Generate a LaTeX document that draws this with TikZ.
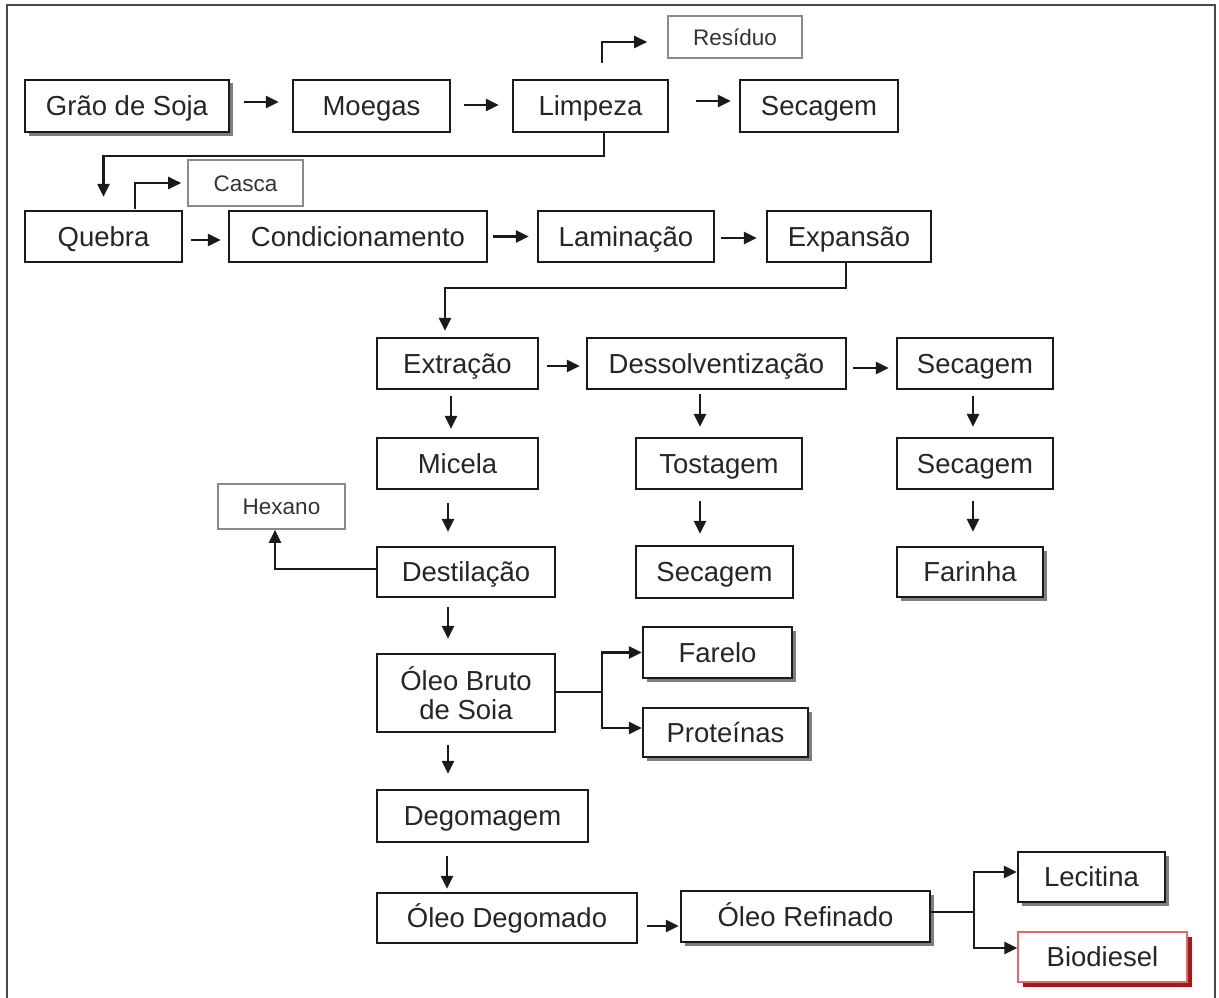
\documentclass[tikz,border=0pt]{standalone}
\usepackage{fontspec}
\setmainfont{Liberation Sans}
\usetikzlibrary{arrows.meta,shadows}
\definecolor{boxline}{HTML}{1A1A1A}
\definecolor{grayline}{HTML}{8A8A8A}
\definecolor{shadowgray}{HTML}{7E7E7E}
\definecolor{redline}{HTML}{E06A6A}
\definecolor{redshadow}{HTML}{A31818}
\definecolor{framecol}{HTML}{4A4A4A}
\tikzset{
  boxbase/.style={draw=boxline, line width=2.3pt, fill=white, rectangle, inner sep=0pt,
     minimum height=51pt, text=black!85, font=\fontsize{27.5}{29}\selectfont, align=center},
  box/.style={boxbase, text height=19.7pt, text depth=0pt},
  graybox/.style={draw=grayline, line width=1.6pt, fill=white, rectangle, inner sep=0pt,
     minimum height=45pt, text=black!80, font=\fontsize{22.5}{25}\selectfont,
     text height=16.1pt, text depth=0pt},
  shad/.style={drop shadow={shadow xshift=3.5pt,shadow yshift=-3.5pt,fill=shadowgray,opacity=1}},
  redbox/.style={draw=redline, line width=1.4pt,
     drop shadow={shadow xshift=4.5pt,shadow yshift=-4.5pt,fill=redshadow,opacity=1}},
  arr/.style={draw=boxline, line width=2.5pt, -{Triangle[length=13pt,width=12pt]}}
}
\begin{document}
\begin{tikzpicture}[x=1pt,y=-1pt]
\useasboundingbox (0,0) rectangle (1219,998);
\fill[white] (0,0) rectangle (1219,998);
\draw[framecol, line width=1.6pt] (7,998) -- (7,5) -- (1215,5) -- (1215,998);

% row 1
\node[box, shad, minimum width=204pt, minimum height=52pt] (graos) at (127,106) {Grão de Soja};
\node[box, minimum width=157pt, minimum height=52pt] (moegas) at (371.5,106) {Moegas};
\node[box, minimum width=155pt, minimum height=52pt] (limpeza) at (590.5,106) {Limpeza};
\node[box, minimum width=158pt, minimum height=52pt] (sec1) at (819,106) {Secagem};
\node[graybox, minimum width=134pt, minimum height=42pt] (residuo) at (735,37) {Resíduo};

% row 2
\node[box, minimum width=157pt] (quebra) at (103.5,236.5) {Quebra};
\node[box, minimum width=258pt] (cond) at (358,236.5) {Condicionamento};
\node[box, minimum width=176pt] (lamin) at (626,236.5) {Laminação};
\node[box, minimum width=164pt] (expans) at (849,236.5) {Expansão};
\node[graybox, minimum width=115pt, minimum height=46pt] (casca) at (245.5,183) {Casca};

% row 3
\node[box, minimum width=161pt] (extr) at (457.5,363.5) {Extração};
\node[box, minimum width=259pt] (dess) at (716.5,363.5) {Dessolventização};
\node[box, minimum width=156pt] (sec2) at (975,363.5) {Secagem};

% row 4
\node[box, minimum width=161pt] (micela) at (457.5,463.5) {Micela};
\node[box, minimum width=166pt] (tost) at (719,463.5) {Tostagem};
\node[box, minimum width=156pt] (sec3) at (975,463.5) {Secagem};
\node[graybox, minimum width=127pt, minimum height=45pt] (hexano) at (281.5,506.5) {Hexano};

% row 5
\node[box, minimum width=178pt, minimum height=50pt] (dest) at (466,572) {Destilação};
\node[box, minimum width=157pt, minimum height=52pt] (sec4) at (714.5,572) {Secagem};
\node[box, shad, minimum width=146pt, minimum height=50pt] (farinha) at (970,572) {Farinha};

% row 6
\node[boxbase, minimum width=178pt, minimum height=78pt] (oleo) at (466,693) {Óleo Bruto\\de Soia};
\node[box, shad, minimum width=149pt] (farelo) at (717.5,652.5) {Farelo};
\node[box, shad, minimum width=165pt, minimum height=49pt] (prot) at (725.5,732.5) {Proteínas};

% lower rows
\node[box, minimum width=211pt, minimum height=52pt] (degom) at (482.5,816) {Degomagem};
\node[box, minimum width=260pt, minimum height=50pt] (oleodeg) at (507,918) {Óleo Degomado};
\node[box, shad, minimum width=249pt] (refin) at (805.5,916.5) {Óleo Refinado};
\node[box, shad, minimum width=147pt, minimum height=50pt] (lecit) at (1091.5,877) {Lecitina};
\node[box, redbox, minimum width=169pt, minimum height=50pt] (biod) at (1102.5,957) {Biodiesel};

% connectors row 1
\draw[arr] ([xshift=14pt,yshift=4pt]graos.east) -- ([xshift=-13pt,yshift=4pt]moegas.west);
\draw[arr] ([xshift=13pt,yshift=1pt]moegas.east) -- ([xshift=-13pt,yshift=1pt]limpeza.west);
\draw[arr] ([xshift=27pt,yshift=5pt]limpeza.east) -- ([xshift=-8pt,yshift=5pt]sec1.west);
\draw[arr] ([xshift=11.5pt,yshift=16pt]limpeza.north) |- ([xshift=-20pt,yshift=-5pt]residuo.west);
\draw[arr] ([xshift=13.5pt]limpeza.south) -- ++(0,23) -| ([yshift=13pt]quebra.north);

% connectors row 2
\draw[arr] ([xshift=31.5pt,yshift=1pt]quebra.north) |- ([xshift=-6pt]casca.west);
\draw[arr] ([xshift=8pt,yshift=-3.5pt]quebra.east) -- ([xshift=-7pt,yshift=-3.5pt]cond.west);
\draw[arr] ([xshift=5pt]cond.east) -- ([xshift=-8pt]lamin.west);
\draw[arr] ([xshift=6pt,yshift=-1.5pt]lamin.east) -- ([xshift=-9pt,yshift=-1.5pt]expans.west);
\draw[arr] ([xshift=-3pt]expans.south) -- ++(0,25) -| ([xshift=-12.5pt,yshift=6pt]extr.north);

% connectors row 3
\draw[arr] ([xshift=8pt,yshift=-2.5pt]extr.east) -- ([xshift=-6pt,yshift=-2.5pt]dess.west);
\draw[arr] ([xshift=6pt,yshift=-4.5pt]dess.east) -- ([xshift=-7pt,yshift=-4.5pt]sec2.west);
\draw[arr] ([xshift=-6.5pt,yshift=-6pt]extr.south) -- ([xshift=-6.5pt,yshift=8pt]micela.north);
\draw[arr] ([xshift=-16.5pt,yshift=-4pt]dess.south) -- ([xshift=-19pt,yshift=10pt]tost.north);
\draw[arr] ([xshift=-2pt,yshift=-6pt]sec2.south) -- ([xshift=-2pt,yshift=10pt]sec3.north);

% connectors row 4
\draw[arr] ([xshift=-9.5pt,yshift=-13pt]micela.south) -- ([xshift=-18pt,yshift=14pt]dest.north);
\draw[arr] ([xshift=-19pt,yshift=-11pt]tost.south) -- ([xshift=-14.5pt,yshift=11pt]sec4.north);
\draw[arr] ([xshift=-2pt,yshift=-11pt]sec3.south) -- ([xshift=3pt,yshift=14pt]farinha.north);

% connectors row 5
\draw[arr] ([yshift=3pt]dest.west) -| ([xshift=-6.5pt]hexano.south);
\draw[arr] ([xshift=-18pt,yshift=-9pt]dest.south) -- ([xshift=-18pt,yshift=14pt]oleo.north);

% connectors row 6
\draw[arr] ([yshift=1pt]oleo.east) -- ++(46,0) |- (farelo.west);
\draw[arr] ([yshift=1pt]oleo.east) -- ++(46,0) |- ([yshift=4.5pt]prot.west);
\draw[arr] ([xshift=-18pt,yshift=-12pt]oleo.south) -- ([xshift=-34.5pt,yshift=15pt]degom.north);
\draw[arr] ([xshift=-35.5pt,yshift=-13pt]degom.south) -- ([xshift=-60pt,yshift=3pt]oleodeg.north);
\draw[arr] ([xshift=9pt,yshift=-8pt]oleodeg.east) -- ([xshift=-1pt,yshift=-9.5pt]refin.west);
\draw[arr] ([yshift=4.5pt]refin.east) -- ++(43,0) |- ([yshift=5pt]lecit.west);
\draw[arr] ([yshift=4.5pt]refin.east) -- ++(43,0) |- ([yshift=9pt]biod.west);
\end{tikzpicture}
\end{document}
